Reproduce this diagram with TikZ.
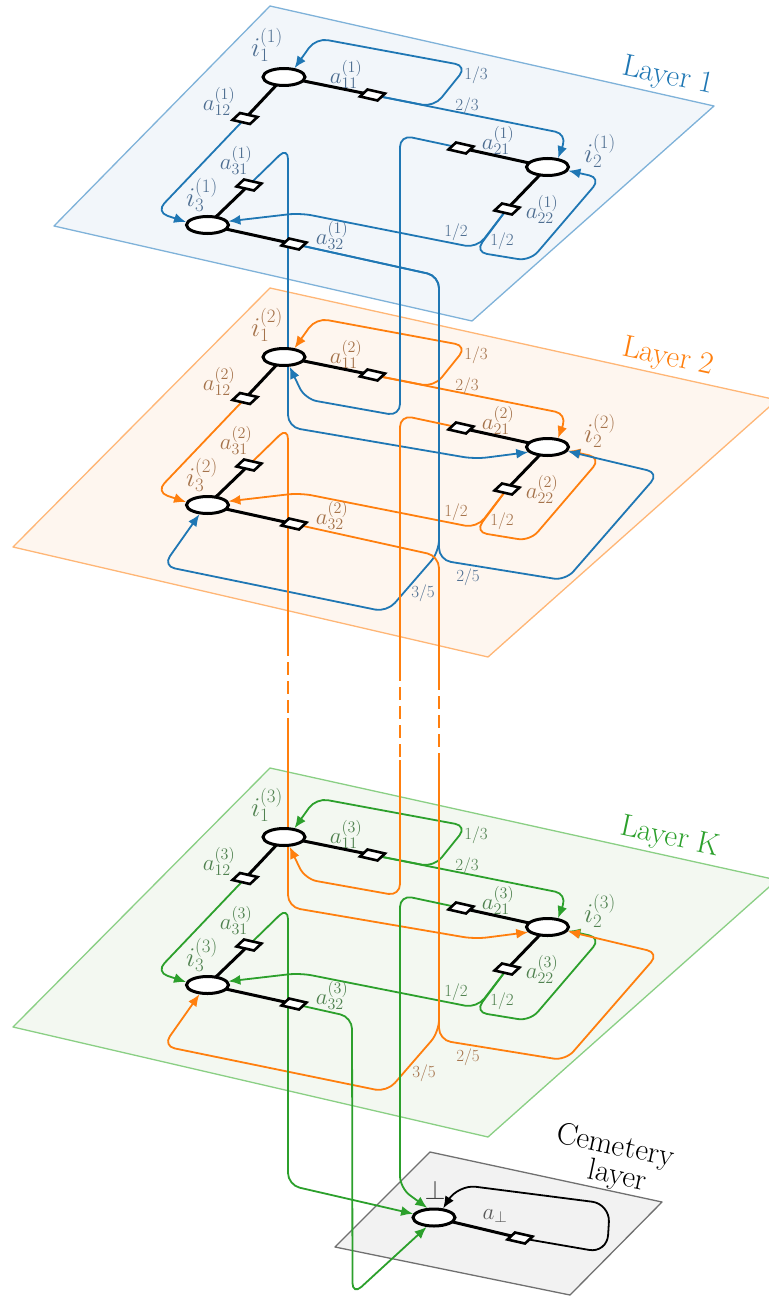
\documentclass[tikz,border=0pt]{standalone}
\usepackage{fix-cm}
\usetikzlibrary{arrows.meta,calc,shapes.geometric}
\definecolor{cB}{HTML}{1F77B4}
\definecolor{cO}{HTML}{FF7F0E}
\definecolor{cG}{HTML}{2CA02C}
\definecolor{tB}{RGB}{78,110,145}
\definecolor{tO}{RGB}{165,115,75}
\definecolor{tG}{RGB}{80,130,80}
\definecolor{fB}{HTML}{F2F6FA}
\definecolor{dB}{HTML}{7FB2D9}
\definecolor{fO}{HTML}{FEF6EF}
\definecolor{dO}{HTML}{FFB676}
\definecolor{fG}{HTML}{F3F8F1}
\definecolor{dG}{HTML}{8ACF84}
\definecolor{fC}{HTML}{F2F2F2}
\definecolor{dC}{HTML}{707070}
\pgfdeclarelayer{planes}
\pgfdeclarelayer{edges}
\pgfdeclarelayer{links}
\pgfsetlayers{planes,edges,links,main}
\tikzset{
  plane/.style={line width=1.3pt,line join=round},
  state/.style={ellipse,draw=black,fill=white,line width=3pt,minimum width=42pt,minimum height=17pt,inner sep=0pt},
  link/.style={line width=3pt,black},
  actbox/.style={draw=black,fill=white,line width=2.6pt},
  edge/.style={line width=1.8pt,rounded corners=12pt},
  tip/.style={-{Latex[length=12pt,width=10pt]}},
  dsh/.style={dash pattern=on 13pt off 6pt},
  nlab/.style={font=\fontsize{27}{29}\selectfont,inner sep=0pt},
  alab/.style={font=\fontsize{23}{25}\selectfont,inner sep=0pt},
  plab/.style={font=\fontsize{17}{19}\selectfont,inner sep=0pt},
  llab/.style={font=\fontsize{31}{34}\selectfont,inner sep=0pt},
}
\newcommand\abox[2]{%
  \coordinate (#1) at (#2);
  \draw[actbox] ($(#1)+(-12.5,1.5)$) -- ($(#1)+(-5,-5.5)$) -- ($(#1)+(12.5,-1.5)$) -- ($(#1)+(5,5.5)$) -- cycle;}
\newcommand\layercontent[4]{%
  \node[state] (i1-#1) at (284,77) {};
  \node[state] (i2-#1) at (547.5,167) {};
  \node[state] (i3-#1) at (207.5,225) {};
  \abox{b11-#1}{372.5,95}
  \abox{b12-#1}{245,118.5}
  \abox{b31-#1}{249,185}
  \abox{b32-#1}{294,244}
  \abox{b21-#1}{461,148}
  \abox{b22-#1}{507,209}
  \begin{pgfonlayer}{links}
    \draw[link] (i1-#1.center) -- (b11-#1);
    \draw[link] (i1-#1.center) -- (b12-#1);
    \draw[link] (i3-#1.center) -- (b31-#1);
    \draw[link] (i3-#1.center) -- (b32-#1);
    \draw[link] (i2-#1.center) -- (b21-#1);
    \draw[link] (i2-#1.center) -- (b22-#1);
  \end{pgfonlayer}
  \node[nlab,text=#3] (li1-#1) at (267,45) {$i_1^{(#4)}$};
  \node[nlab,text=#3] (li3-#1) at (202,195) {$i_3^{(#4)}$};
  \node[nlab,text=#3] (li2-#1) at (600,151) {$i_2^{(#4)}$};
  \node[alab,text=#3] (la11-#1) at (346,74) {$a_{11}^{(#4)}$};
  \node[alab,text=#3] (la12-#1) at (219,101) {$a_{12}^{(#4)}$};
  \node[alab,text=#3] (la31-#1) at (236,160) {$a_{31}^{(#4)}$};
  \node[alab,text=#3] (la32-#1) at (332,235) {$a_{32}^{(#4)}$};
  \node[alab,text=#3] (la21-#1) at (498,140) {$a_{21}^{(#4)}$};
  \node[alab,text=#3] (la22-#1) at (542,209) {$a_{22}^{(#4)}$};
  \node[plab,text=#3] (p13-#1) at (476,75) {1/3};
  \node[plab,text=#3] (p23-#1) at (467,106) {2/3};
  \node[plab,text=#3] (p12a-#1) at (456,232) {1/2};
  \node[plab,text=#3] (p12b-#1) at (502,241) {1/2};
  \begin{pgfonlayer}{edges}
    \draw[edge,tip,#2] (b11-#1) -- (434,107) -- (467,66) -- (316,38) -- (i1-#1.40);
    \draw[edge,tip,#2] (b11-#1) -- (567,134) -- (i2-#1.40);
    \draw[edge,tip,#2] (b12-#1) -- (156,212) -- (i3-#1.172);
    \draw[edge,tip,#2] (b22-#1) -- (477,248) -- (300,213) -- (i3-#1.10);
    \draw[edge,tip,#2] (b22-#1) -- (475,252) -- (530,261) -- (601,178) -- (i2-#1.-10);
  \end{pgfonlayer}
}
\begin{document}
\begin{tikzpicture}[x=1pt,y=-1pt]
\useasboundingbox (0,0) rectangle (768,1297);
\begin{pgfonlayer}{planes}
  \filldraw[plane,fill=fB,draw=dB] (270,6) -- (714,106) -- (472,321) -- (54,226) -- cycle;
  \filldraw[plane,fill=fO,draw=dO] (270,288) -- (777,400) -- (488,657) -- (13,547) -- cycle;
  \filldraw[plane,fill=fG,draw=dG] (270,768) -- (777,880) -- (488,1137) -- (13,1027) -- cycle;
  \filldraw[plane,fill=fC,draw=dC] (430,1152) -- (662,1202) -- (570,1295) -- (335,1247) -- cycle;
\end{pgfonlayer}
\node[llab,text=cB,rotate=-12] (t1) at (668,77) {Layer 1};
\node[llab,text=cO,rotate=-12] (t2) at (668,358) {Layer 2};
\node[llab,text=cG,rotate=-12] (t3) at (670,838) {Layer K};
\node[llab,text=black,rotate=-12] (t4a) at (615,1147) {Cemetery};
\node[llab,text=black,rotate=-12] (t4b) at (617,1177) {layer};
\begin{scope}\layercontent{1}{cB}{tB}{1}\end{scope}
\begin{scope}[shift={(0,280)}]\layercontent{2}{cO}{tO}{2}\end{scope}
\begin{scope}[shift={(0,760)}]\layercontent{3}{cG}{tG}{3}\end{scope}
% cemetery
\node[state] (bot) at (434,1217.5) {};
\abox{abot}{520,1238}
\begin{pgfonlayer}{links}
  \draw[link] (bot.center) -- (abot);
\end{pgfonlayer}
\node[nlab,text=black!75] (lbot) at (435,1190) {$\bot$};
\node[alab,text=black!65] (labot) at (495,1216) {$a_\bot$};
% dash break points
\coordinate (d1a) at (288,643); \coordinate (d1b) at (288,718);
\coordinate (d2a) at (400,668); \coordinate (d2b) at (400,760);
\coordinate (d3a) at (439,677); \coordinate (d3b) at (439,765);
\node[plab,text=tB] (p25-1) at (468,577) {2/5};
\node[plab,text=tB] (p35-1) at (423,593) {3/5};
\node[plab,text=tO] (p25-2) at (468,1057) {2/5};
\node[plab,text=tO] (p35-2) at (424,1073) {3/5};
\begin{pgfonlayer}{edges}
  % layer 1 -> layer 2
  \draw[edge,tip,cB] (b31-1) -- (288,147) -- (288,427) -- (475,459) -- (i2-2.195);
  \draw[edge,tip,cB] (b21-1) -- (400,135) -- (400,416) -- (305,399) -- (i1-2.-60);
  \draw[edge,tip,cB] (b32-1) -- (439,276) -- (439,560) -- (565.5,580.5) -- (659,473) -- (i2-2.-12);
  \draw[edge,tip,cB] (b32-1) -- (439,276) -- (439,552) -- (387,612) -- (163,566) -- (i3-2.-131);
  % layer 2 -> layer K
  \draw[edge,cO] (b31-2) -- (288,427) -- (d1a);
  \draw[edge,cO,dsh] (d1a) -- (d1b);
  \draw[edge,tip,cO] (d1b) -- (288,907) -- (475,939) -- (i2-3.195);
  \draw[edge,cO] (b21-2) -- (400,415) -- (d2a);
  \draw[edge,cO,dsh] (d2a) -- (d2b);
  \draw[edge,tip,cO] (d2b) -- (400,896) -- (305,879) -- (i1-3.-60);
  \draw[edge,cO] (b32-2) -- (439,556) -- (d3a);
  \draw[edge,cO,dsh] (d3a) -- (d3b);
  \draw[edge,tip,cO] (d3b) -- (439,1040) -- (565.5,1060.5) -- (659,953) -- (i2-3.-12);
  \draw[edge,tip,cO] (d3b) -- (439,1032) -- (387,1092) -- (163,1046) -- (i3-3.-131);
  % layer K -> cemetery
  \draw[edge,tip,cG] (b31-3) -- (288,907) -- (288,1185) -- (bot.170);
  \draw[edge,tip,cG] (b21-3) -- (400,895) -- (400,1188) -- (bot.125);
  \draw[edge,tip,cG] (b32-3) -- (352,1017) -- (352.5,1295) -- (bot.-128);
  % cemetery loop
  \draw[edge,tip,black,rounded corners=18pt] (abot) -- (607,1253) -- (610,1204) -- (458,1184.5) -- (bot.45);
\end{pgfonlayer}
\end{tikzpicture}
\end{document}
